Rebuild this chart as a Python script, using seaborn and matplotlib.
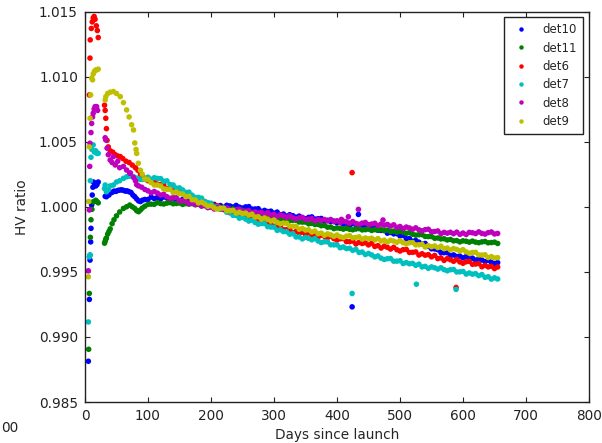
import matplotlib
matplotlib.use("Agg")
import matplotlib.pyplot as plt
import pandas as pd
import seaborn as sns

# ---------------- data ----------------
detectors = ["det10", "det11", "det6", "det7", "det8", "det9"]
colors = ["#0000ff", "#008000", "#ff0000", "#00bfbf", "#bf00bf", "#bfbf00"]

x_ticks = [0, 100, 200, 300, 400, 500, 600, 700, 800]
y_ticks = [0.985, 0.990, 0.995, 1.000, 1.005, 1.010, 1.015]

late_days = [95, 100, 105, 110, 115, 120, 125, 130, 135, 140,
             145, 150, 155, 160, 165, 170, 175, 180, 185, 190,
             195, 200, 205, 210, 215, 220, 225, 230, 235, 240,
             245, 250, 255, 260, 265, 270, 275, 280, 285, 290,
             295, 300, 305, 310, 315, 320, 325, 330, 335, 340,
             345, 350, 355, 360, 365, 370, 375, 380, 385, 390,
             395, 400, 405, 410, 415, 420, 425, 430, 435, 440,
             445, 450, 455, 460, 465, 470, 475, 480, 485, 490,
             495, 500, 505, 510, 515, 520, 525, 530, 535, 540,
             545, 550, 555, 560, 565, 570, 575, 580, 585, 590,
             595, 600, 605, 610, 615, 620, 625, 630, 635, 640,
             645, 650, 655]

# det10 (blue)
det10_early_days = [5.3, 6.9, 8.0, 9.0, 9.5, 10.5, 11.5, 12.5, 13.5, 15, 17, 19, 21,
                    32, 34, 36, 38, 40, 43, 46, 49, 52, 55, 58, 61, 64, 67, 70,
                    73, 76, 79, 82, 85, 88, 91]
det10_early = [0.98813, 0.99288, 0.99590, 0.99730, 0.99834, 1.00013, 1.0009, 1.0015,
               1.0019, 1.0018, 1.0016, 1.0017, 1.0019,
               1.0008, 1.00077, 1.0010, 1.0009, 1.00108, 1.0011, 1.0012, 1.00118,
               1.00125, 1.00128, 1.0013, 1.00126, 1.0012, 1.00122, 1.00115,
               1.0011, 1.0009, 1.00077, 1.0006, 1.00045, 1.0004, 1.0005]
det10_late = [1.00056, 1.00056, 1.00074, 1.00063, 1.00072, 1.00060, 1.00075, 1.00068, 1.00057, 1.00068,
              1.00055, 1.00047, 1.00057, 1.00060, 1.00040, 1.00040, 1.00042, 1.00021, 1.00028, 1.00018,
              1.00021, 1.00006, 1.00018, 1.00001, 1.00009, 0.99996, 1.00011, 1.00006, 0.99998, 1.00010,
              0.99997, 0.99990, 0.99999, 1.00001, 0.99982, 0.99983, 0.99985, 0.99965, 0.99972, 0.99963,
              0.99966, 0.99951, 0.99959, 0.99939, 0.99944, 0.99928, 0.99939, 0.99931, 0.99919, 0.99928,
              0.99915, 0.99908, 0.99918, 0.99922, 0.99905, 0.99908, 0.99910, 0.99889, 0.99896, 0.99886,
              0.99890, 0.99876, 0.99886, 0.99867, 0.99873, 0.99858, 0.99870, 0.99863, 0.99853, 0.99861,
              0.99845, 0.99834, 0.99840, 0.99840, 0.99819, 0.99818, 0.99819, 0.99797, 0.99803, 0.99792,
              0.99793, 0.99776, 0.99780, 0.99755, 0.99755, 0.99735, 0.99741, 0.99728, 0.99712, 0.99718,
              0.99695, 0.99677, 0.99676, 0.99670, 0.99648, 0.99647, 0.99647, 0.99624, 0.99630, 0.99618,
              0.99621, 0.99608, 0.99618, 0.99599, 0.99605, 0.99590, 0.99600, 0.99591, 0.99579, 0.99588,
              0.99573, 0.99564, 0.99571]
det10_extra_days = [424, 434]
det10_extra = [0.99231, 0.99941]

# det11 (green)
det11_early_days = [5.8, 6.9, 8.0, 8.5, 9.5, 11, 13, 15, 17, 19, 21,
                    31, 32, 33, 34, 36, 38, 40, 43, 46, 50, 55, 61, 66, 71, 75,
                    79, 82, 85, 88, 91]
det11_early = [0.98905, 0.99334, 0.99628, 0.99765, 0.9990, 0.9998, 1.00038, 1.0004,
               1.0005, 1.0004, 1.0003,
               0.9972, 0.99735, 0.9975, 0.9976, 0.9979, 0.9981, 0.9983, 0.9987, 0.9990,
               0.9993, 0.9996, 0.99987, 1.0000, 1.00013, 1.0000, 0.99987, 0.9997,
               0.99962, 0.99975, 0.9999]
det11_late = [1.00004, 1.00018, 1.00020, 1.00019, 1.00031, 1.00024, 1.00021, 1.00028, 1.00032, 1.00023,
              1.00025, 1.00028, 1.00018, 1.00024, 1.00020, 1.00024, 1.00015, 1.00018, 1.00006, 1.00008,
              0.99997, 1.00003, 0.99998, 0.99989, 0.99995, 0.99985, 0.99978, 0.99982, 0.99983, 0.99971,
              0.99971, 0.99972, 0.99959, 0.99963, 0.99956, 0.99956, 0.99945, 0.99946, 0.99932, 0.99931,
              0.99919, 0.99923, 0.99917, 0.99907, 0.99912, 0.99901, 0.99893, 0.99896, 0.99896, 0.99883,
              0.99882, 0.99882, 0.99869, 0.99872, 0.99864, 0.99864, 0.99854, 0.99856, 0.99843, 0.99844,
              0.99832, 0.99837, 0.99834, 0.99828, 0.99835, 0.99827, 0.99823, 0.99829, 0.99832, 0.99822,
              0.99824, 0.99828, 0.99818, 0.99824, 0.99820, 0.99824, 0.99816, 0.99821, 0.99810, 0.99813,
              0.99804, 0.99811, 0.99805, 0.99796, 0.99801, 0.99789, 0.99782, 0.99785, 0.99785, 0.99772,
              0.99771, 0.99771, 0.99758, 0.99760, 0.99753, 0.99754, 0.99745, 0.99749, 0.99738, 0.99740,
              0.99730, 0.99738, 0.99735, 0.99728, 0.99736, 0.99728, 0.99724, 0.99730, 0.99733, 0.99723,
              0.99725, 0.99728, 0.99718]
det11_extra_days = []
det11_extra = []

# det6 (red)
det6_early_days = [6.9, 7.9, 8.3, 10, 11.5, 13, 14.5, 16, 18, 19.6, 21,
                   31, 32, 33, 34, 35, 37, 40, 44, 48, 52, 56, 60, 65, 70, 75,
                   80, 84, 88, 92]
det6_early = [1.00859, 1.01142, 1.01282, 1.0137, 1.0142, 1.0145, 1.01462, 1.0144,
              1.0139, 1.01354, 1.0130,
              1.0078, 1.0074, 1.0068, 1.0060, 1.0051, 1.0046, 1.0043, 1.0042, 1.0040,
              1.0039, 1.00385, 1.0037, 1.0035, 1.0034, 1.0032, 1.0030, 1.0028, 1.0025,
              1.0023]
det6_late = [1.00216, 1.00200, 1.00205, 1.00202, 1.00174, 1.00170, 1.00168, 1.00139, 1.00144, 1.00128,
             1.00127, 1.00105, 1.00111, 1.00082, 1.00082, 1.00058, 1.00066, 1.00051, 1.00033, 1.00040,
             1.00016, 1.00000, 1.00008, 1.00007, 0.99982, 0.99980, 0.99981, 0.99954, 0.99962, 0.99949,
             0.99951, 0.99932, 0.99941, 0.99915, 0.99917, 0.99895, 0.99905, 0.99892, 0.99876, 0.99885,
             0.99863, 0.99850, 0.99855, 0.99852, 0.99824, 0.99824, 0.99826, 0.99801, 0.99810, 0.99798,
             0.99804, 0.99788, 0.99801, 0.99778, 0.99785, 0.99767, 0.99782, 0.99773, 0.99762, 0.99774,
             0.99755, 0.99744, 0.99754, 0.99755, 0.99732, 0.99732, 0.99736, 0.99714, 0.99726, 0.99718,
             0.99723, 0.99707, 0.99719, 0.99695, 0.99701, 0.99683, 0.99697, 0.99688, 0.99675, 0.99688,
             0.99670, 0.99660, 0.99670, 0.99672, 0.99649, 0.99650, 0.99653, 0.99629, 0.99639, 0.99628,
             0.99632, 0.99615, 0.99626, 0.99602, 0.99607, 0.99588, 0.99602, 0.99593, 0.99581, 0.99594,
             0.99576, 0.99566, 0.99577, 0.99580, 0.99558, 0.99560, 0.99563, 0.99539, 0.99549, 0.99538,
             0.99542, 0.99525, 0.99537]
det6_extra_days = [424, 589]
det6_extra = [1.00262, 0.99380]

# det7 (cyan)
det7_early_days = [5.3, 6.9, 8.0, 8.5, 9.5, 11, 13, 15, 17, 19, 21,
                   31, 32, 34, 37, 40, 45, 50, 55, 61, 66, 71, 77, 82, 87, 91]
det7_early = [0.99115, 0.99615, 0.9963, 1.0020, 1.0038, 1.0044, 1.00475, 1.0042,
              1.0043, 1.0041, 1.0041,
              1.0014, 1.00167, 1.00115, 1.0013, 1.0016, 1.00167, 1.0019, 1.0020,
              1.00218, 1.0023, 1.00235, 1.00231, 1.0022, 1.0021, 1.0021]
det7_late = [1.00210, 1.00227, 1.00211, 1.00223, 1.00218, 1.00216, 1.00196, 1.00199, 1.00171, 1.00167,
             1.00143, 1.00145, 1.00129, 1.00110, 1.00112, 1.00089, 1.00072, 1.00072, 1.00066, 1.00039,
             1.00032, 1.00027, 0.99999, 1.00000, 0.99983, 0.99979, 0.99958, 0.99959, 0.99934, 0.99933,
             0.99912, 0.99918, 0.99905, 0.99890, 0.99897, 0.99879, 0.99866, 0.99871, 0.99870, 0.99847,
             0.99844, 0.99843, 0.99819, 0.99823, 0.99809, 0.99808, 0.99789, 0.99793, 0.99768, 0.99768,
             0.99753, 0.99764, 0.99757, 0.99746, 0.99755, 0.99737, 0.99725, 0.99731, 0.99730, 0.99708,
             0.99707, 0.99707, 0.99685, 0.99691, 0.99679, 0.99681, 0.99665, 0.99672, 0.99649, 0.99652,
             0.99633, 0.99641, 0.99630, 0.99615, 0.99622, 0.99605, 0.99595, 0.99601, 0.99602, 0.99582,
             0.99582, 0.99585, 0.99564, 0.99571, 0.99562, 0.99565, 0.99550, 0.99559, 0.99538, 0.99542,
             0.99527, 0.99538, 0.99531, 0.99521, 0.99531, 0.99517, 0.99508, 0.99516, 0.99518, 0.99499,
             0.99500, 0.99503, 0.99483, 0.99491, 0.99482, 0.99486, 0.99471, 0.99479, 0.99458, 0.99462,
             0.99444, 0.99454, 0.99445]
det7_extra_days = [424, 526, 589]
det7_extra = [0.99334, 0.99405, 0.99365]

# det8 (magenta)
det8_early_days = [5.3, 6.9, 7.5, 7.9, 9.5, 10.6, 12, 13, 14.5, 16, 18.5, 20,
                   32, 33, 35, 37, 40, 43, 45, 48, 52, 55, 61, 66, 71, 72, 77,
                   80, 82, 85, 90]
det8_early = [0.99508, 0.99975, 1.0031, 1.00488, 1.0057, 1.0064, 1.0069, 1.00718,
              1.0075, 1.00769, 1.00769, 1.0074,
              1.0053, 1.00513, 1.0045, 1.0040, 1.00359, 1.0034, 1.00385, 1.00321,
              1.0035, 1.0030, 1.0031, 1.00282, 1.00257, 1.0026, 1.00225, 1.0020,
              1.0017, 1.0016, 1.0015]
det8_late = [1.00133, 1.00122, 1.00107, 1.00117, 1.00105, 1.00090, 1.00096, 1.00077, 1.00065, 1.00070,
             1.00069, 1.00047, 1.00045, 1.00046, 1.00024, 1.00029, 1.00018, 1.00021, 1.00006, 1.00014,
             0.99993, 0.99997, 0.99983, 0.99995, 0.99989, 0.99979, 0.99991, 0.99977, 0.99969, 0.99978,
             0.99981, 0.99964, 0.99966, 0.99970, 0.99951, 0.99960, 0.99952, 0.99957, 0.99944, 0.99955,
             0.99936, 0.99942, 0.99926, 0.99938, 0.99930, 0.99919, 0.99930, 0.99915, 0.99907, 0.99915,
             0.99919, 0.99902, 0.99905, 0.99910, 0.99892, 0.99902, 0.99896, 0.99902, 0.99891, 0.99902,
             0.99885, 0.99892, 0.99878, 0.99890, 0.99884, 0.99874, 0.99886, 0.99872, 0.99865, 0.99874,
             0.99879, 0.99863, 0.99867, 0.99873, 0.99856, 0.99867, 0.99859, 0.99864, 0.99851, 0.99861,
             0.99842, 0.99848, 0.99833, 0.99844, 0.99837, 0.99827, 0.99838, 0.99823, 0.99815, 0.99824,
             0.99827, 0.99808, 0.99810, 0.99814, 0.99794, 0.99803, 0.99797, 0.99804, 0.99793, 0.99805,
             0.99788, 0.99798, 0.99787, 0.99803, 0.99800, 0.99794, 0.99807, 0.99795, 0.99790, 0.99801,
             0.99806, 0.99791, 0.99795]
det8_extra_days = [407, 418, 434, 473]
det8_extra = [0.99903, 0.99923, 0.99980, 0.99898]

# det9 (yellow)
det9_early_days = [5.3, 6.0, 7.0, 8.0, 9.0, 10.6, 12, 13, 15, 17, 18.5, 21,
                   32, 33, 36, 40, 45, 50, 56, 61, 66, 70, 74, 77, 79, 81, 82,
                   84.6, 88, 91]
det9_early = [0.99462, 1.0004, 1.0046, 1.0068, 1.00859, 1.00988, 1.00975, 1.0102,
              1.0104, 1.0105, 1.01052, 1.01057,
              1.0082, 1.00846, 1.0087, 1.0088, 1.00885, 1.0087, 1.00846, 1.0080,
              1.00744, 1.0069, 1.0063, 1.0059, 1.0049, 1.0044, 1.0041, 1.00334,
              1.0028, 1.0025]
det9_late = [1.00214, 1.00208, 1.00185, 1.00167, 1.00167, 1.00160, 1.00137, 1.00134, 1.00133, 1.00109,
             1.00113, 1.00100, 1.00098, 1.00078, 1.00080, 1.00054, 1.00052, 1.00030, 1.00035, 1.00021,
             1.00004, 1.00008, 0.99992, 0.99982, 0.99989, 0.99990, 0.99970, 0.99970, 0.99972, 0.99951,
             0.99958, 0.99948, 0.99951, 0.99936, 0.99943, 0.99921, 0.99923, 0.99905, 0.99914, 0.99904,
             0.99890, 0.99898, 0.99880, 0.99869, 0.99874, 0.99873, 0.99851, 0.99850, 0.99850, 0.99827,
             0.99833, 0.99821, 0.99823, 0.99806, 0.99813, 0.99793, 0.99798, 0.99781, 0.99792, 0.99784,
             0.99773, 0.99783, 0.99770, 0.99763, 0.99774, 0.99778, 0.99761, 0.99764, 0.99769, 0.99751,
             0.99760, 0.99753, 0.99758, 0.99745, 0.99755, 0.99737, 0.99743, 0.99729, 0.99742, 0.99736,
             0.99727, 0.99739, 0.99724, 0.99715, 0.99723, 0.99725, 0.99707, 0.99708, 0.99711, 0.99691,
             0.99701, 0.99693, 0.99699, 0.99686, 0.99697, 0.99678, 0.99683, 0.99668, 0.99679, 0.99672,
             0.99661, 0.99670, 0.99653, 0.99643, 0.99649, 0.99650, 0.99630, 0.99629, 0.99631, 0.99610,
             0.99617, 0.99606, 0.99609]
det9_extra_days = []
det9_extra = []

series = {
    "det10": (det10_early_days, det10_early, det10_late, det10_extra_days, det10_extra),
    "det11": (det11_early_days, det11_early, det11_late, det11_extra_days, det11_extra),
    "det6": (det6_early_days, det6_early, det6_late, det6_extra_days, det6_extra),
    "det7": (det7_early_days, det7_early, det7_late, det7_extra_days, det7_extra),
    "det8": (det8_early_days, det8_early, det8_late, det8_extra_days, det8_extra),
    "det9": (det9_early_days, det9_early, det9_late, det9_extra_days, det9_extra),
}

rows = []
for name in detectors:
    ed, ev, lv, xd, xv = series[name]
    days = list(ed) + list(late_days) + list(xd)
    vals = list(ev) + list(lv) + list(xv)
    for d, v in zip(days, vals):
        rows.append((name, d, v))
df = pd.DataFrame(rows, columns=["detector", "day", "ratio"])

# ---------------- plotting ----------------
sns.set_style("ticks")
plt.rcParams["font.family"] = ["DejaVu Sans"]
plt.rcParams.update({
    "xtick.direction": "in", "ytick.direction": "in",
    "xtick.top": True, "ytick.right": True,
    "xtick.major.size": 3.5, "ytick.major.size": 3.5,
    "xtick.major.pad": 5, "ytick.major.pad": 5,
    "xtick.color": "#222222", "ytick.color": "#222222",
    "axes.edgecolor": "#222222",
})

fig = plt.figure(figsize=(6.02, 4.43), dpi=100)
ax = fig.add_axes([85 / 602, 41 / 443, 504 / 602, 390.5 / 443])

palette = dict(zip(detectors, colors))
sns.scatterplot(data=df, x="day", y="ratio", hue="detector", hue_order=detectors,
                palette=palette, s=16, linewidth=0, edgecolor="none", ax=ax)

ax.set_xlim(0, 800)
ax.set_ylim(0.985, 1.015)
ax.set_xticks(x_ticks)
ax.set_yticks(y_ticks)
ax.set_xticklabels([str(t) for t in x_ticks], fontsize=9.8)
ax.set_yticklabels([f"{t:.3f}" for t in y_ticks], fontsize=9.8)
ax.set_xlabel("Days since launch", fontsize=9.8, labelpad=4)
ax.set_ylabel("HV ratio", fontsize=9.8)
ax.yaxis.set_label_coords(-0.111, 0.5)
for sp in ax.spines.values():
    sp.set_linewidth(1.0)
    sp.set_visible(True)

handles, labels = ax.get_legend_handles_labels()
for h in handles:
    if hasattr(h, "set_markersize"):
        h.set_markersize(3.2)
leg = ax.legend(handles, labels, loc="upper right", fontsize=8.5, frameon=True,
                fancybox=False, framealpha=1, edgecolor="#222222",
                borderaxespad=0.5, labelspacing=0.45, handlelength=2.0,
                handletextpad=0.8, borderpad=0.5, scatterpoints=1, numpoints=1)
leg.get_frame().set_linewidth(1.0)

# fragment of a neighbouring figure's tick label at the bottom-left corner
fig.text(1 / 602, 15 / 443, "00", fontsize=9.8, ha="left", va="center", color="#222222")

fig.savefig("out.png", dpi=100)
